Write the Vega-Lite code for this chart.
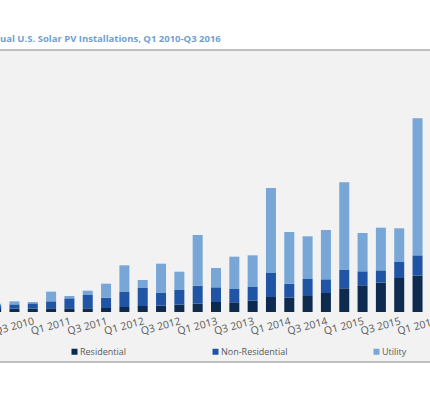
{
  "$schema": "https://vega.github.io/schema/vega-lite/v6.json",
  "width": 452,
  "height": 312,
  "autosize": {"type": "none"},
  "padding": {"left": -10, "right": -12, "top": 50, "bottom": 38},
  "background": "white",
  "title": {"text": "ual U.S. Solar PV Installations, Q1 2010-Q3 2016", "anchor": "start", "frame": "group", "dx": 10, "dy": 10, "offset": 7, "baseline": "bottom", "font": "Open Sans", "fontSize": 9.5, "fontWeight": "bold", "color": "#6f9fd2"},
  "data": {"values": [
    {"q": "Q1 2010", "type": "Residential", "k": 1, "mw": 57}, {"q": "Q1 2010", "type": "Non-Residential", "k": 2, "mw": 70}, {"q": "Q1 2010", "type": "Utility", "k": 3, "mw": 32},
    {"q": "Q2 2010", "type": "Residential", "k": 1, "mw": 63}, {"q": "Q2 2010", "type": "Non-Residential", "k": 2, "mw": 82}, {"q": "Q2 2010", "type": "Utility", "k": 3, "mw": 57},
    {"q": "Q3 2010", "type": "Residential", "k": 1, "mw": 63}, {"q": "Q3 2010", "type": "Non-Residential", "k": 2, "mw": 101}, {"q": "Q3 2010", "type": "Utility", "k": 3, "mw": 25},
    {"q": "Q4 2010", "type": "Residential", "k": 1, "mw": 70}, {"q": "Q4 2010", "type": "Non-Residential", "k": 2, "mw": 133}, {"q": "Q4 2010", "type": "Utility", "k": 3, "mw": 184},
    {"q": "Q1 2011", "type": "Residential", "k": 1, "mw": 70}, {"q": "Q1 2011", "type": "Non-Residential", "k": 2, "mw": 190}, {"q": "Q1 2011", "type": "Utility", "k": 3, "mw": 44},
    {"q": "Q2 2011", "type": "Residential", "k": 1, "mw": 70}, {"q": "Q2 2011", "type": "Non-Residential", "k": 2, "mw": 253}, {"q": "Q2 2011", "type": "Utility", "k": 3, "mw": 82},
    {"q": "Q3 2011", "type": "Residential", "k": 1, "mw": 76}, {"q": "Q3 2011", "type": "Non-Residential", "k": 2, "mw": 196}, {"q": "Q3 2011", "type": "Utility", "k": 3, "mw": 266},
    {"q": "Q4 2011", "type": "Residential", "k": 1, "mw": 95}, {"q": "Q4 2011", "type": "Non-Residential", "k": 2, "mw": 285}, {"q": "Q4 2011", "type": "Utility", "k": 3, "mw": 507},
    {"q": "Q1 2012", "type": "Residential", "k": 1, "mw": 114}, {"q": "Q1 2012", "type": "Non-Residential", "k": 2, "mw": 342}, {"q": "Q1 2012", "type": "Utility", "k": 3, "mw": 152},
    {"q": "Q2 2012", "type": "Residential", "k": 1, "mw": 120}, {"q": "Q2 2012", "type": "Non-Residential", "k": 2, "mw": 241}, {"q": "Q2 2012", "type": "Utility", "k": 3, "mw": 557},
    {"q": "Q3 2012", "type": "Residential", "k": 1, "mw": 139}, {"q": "Q3 2012", "type": "Non-Residential", "k": 2, "mw": 279}, {"q": "Q3 2012", "type": "Utility", "k": 3, "mw": 348},
    {"q": "Q4 2012", "type": "Residential", "k": 1, "mw": 158}, {"q": "Q4 2012", "type": "Non-Residential", "k": 2, "mw": 342}, {"q": "Q4 2012", "type": "Utility", "k": 3, "mw": 963},
    {"q": "Q1 2013", "type": "Residential", "k": 1, "mw": 190}, {"q": "Q1 2013", "type": "Non-Residential", "k": 2, "mw": 279}, {"q": "Q1 2013", "type": "Utility", "k": 3, "mw": 367},
    {"q": "Q2 2013", "type": "Residential", "k": 1, "mw": 184}, {"q": "Q2 2013", "type": "Non-Residential", "k": 2, "mw": 253}, {"q": "Q2 2013", "type": "Utility", "k": 3, "mw": 614},
    {"q": "Q3 2013", "type": "Residential", "k": 1, "mw": 215}, {"q": "Q3 2013", "type": "Non-Residential", "k": 2, "mw": 260}, {"q": "Q3 2013", "type": "Utility", "k": 3, "mw": 602},
    {"q": "Q4 2013", "type": "Residential", "k": 1, "mw": 285}, {"q": "Q4 2013", "type": "Non-Residential", "k": 2, "mw": 456}, {"q": "Q4 2013", "type": "Utility", "k": 3, "mw": 1615},
    {"q": "Q1 2014", "type": "Residential", "k": 1, "mw": 272}, {"q": "Q1 2014", "type": "Non-Residential", "k": 2, "mw": 266}, {"q": "Q1 2014", "type": "Utility", "k": 3, "mw": 982},
    {"q": "Q2 2014", "type": "Residential", "k": 1, "mw": 304}, {"q": "Q2 2014", "type": "Non-Residential", "k": 2, "mw": 323}, {"q": "Q2 2014", "type": "Utility", "k": 3, "mw": 811},
    {"q": "Q3 2014", "type": "Residential", "k": 1, "mw": 361}, {"q": "Q3 2014", "type": "Non-Residential", "k": 2, "mw": 260}, {"q": "Q3 2014", "type": "Utility", "k": 3, "mw": 937},
    {"q": "Q4 2014", "type": "Residential", "k": 1, "mw": 450}, {"q": "Q4 2014", "type": "Non-Residential", "k": 2, "mw": 348}, {"q": "Q4 2014", "type": "Utility", "k": 3, "mw": 1666},
    {"q": "Q1 2015", "type": "Residential", "k": 1, "mw": 507}, {"q": "Q1 2015", "type": "Non-Residential", "k": 2, "mw": 266}, {"q": "Q1 2015", "type": "Utility", "k": 3, "mw": 728},
    {"q": "Q2 2015", "type": "Residential", "k": 1, "mw": 557}, {"q": "Q2 2015", "type": "Non-Residential", "k": 2, "mw": 234}, {"q": "Q2 2015", "type": "Utility", "k": 3, "mw": 811},
    {"q": "Q3 2015", "type": "Residential", "k": 1, "mw": 646}, {"q": "Q3 2015", "type": "Non-Residential", "k": 2, "mw": 304}, {"q": "Q3 2015", "type": "Utility", "k": 3, "mw": 640},
    {"q": "Q4 2015", "type": "Residential", "k": 1, "mw": 690}, {"q": "Q4 2015", "type": "Non-Residential", "k": 2, "mw": 386}, {"q": "Q4 2015", "type": "Utility", "k": 3, "mw": 2603}
  ]},
  "mark": {"type": "bar", "width": 10},
  "encoding": {
    "x": {
      "field": "q", "type": "ordinal",
      "scale": {"domain": ["Q1 2010","Q2 2010","Q3 2010","Q4 2010","Q1 2011","Q2 2011","Q3 2011","Q4 2011","Q1 2012","Q2 2012","Q3 2012","Q4 2012","Q1 2013","Q2 2013","Q3 2013","Q4 2013","Q1 2014","Q2 2014","Q3 2014","Q4 2014","Q1 2015","Q2 2015","Q3 2015","Q4 2015","Q1 2016"], "paddingInner": 0.45, "paddingOuter": 0.06},
      "axis": {"values": ["Q1 2010","Q3 2010","Q1 2011","Q3 2011","Q1 2012","Q3 2012","Q1 2013","Q3 2013","Q1 2014","Q3 2014","Q1 2015","Q3 2015","Q1 2016"], "labelAngle": -15, "labelAlign": "right", "labelBaseline": "top", "labelPadding": 4, "ticks": false, "domain": false, "grid": false, "title": null, "labelFont": "Open Sans", "labelFontSize": 10.5, "labelColor": "#595959", "offset": -50, "labelOverlap": false, "labelBound": false}
    },
    "y": {"field": "mw", "type": "quantitative", "stack": "zero", "scale": {"domain": [-950, 4978], "nice": false, "zero": false}, "axis": null},
    "order": {"field": "k", "type": "quantitative", "sort": "ascending"},
    "color": {
      "field": "type", "type": "nominal",
      "sort": ["Residential", "Non-Residential", "Utility"],
      "scale": {"domain": ["Residential", "Non-Residential", "Utility"], "range": ["#0e2a4f", "#1f55a4", "#78a6d6"]},
      "legend": {"orient": "none", "legendX": 80, "legendY": 297, "direction": "horizontal", "title": null, "symbolType": "square", "symbolSize": 36, "symbolStrokeWidth": 0, "labelFont": "Open Sans", "labelFontSize": 9, "labelColor": "#595959", "columnPadding": 84, "gridAlign": "each", "labelOffset": 1}
    }
  },
  "config": {"view": {"fill": "#f2f2f2", "stroke": "#bfbfbf", "strokeWidth": 2}}
}
